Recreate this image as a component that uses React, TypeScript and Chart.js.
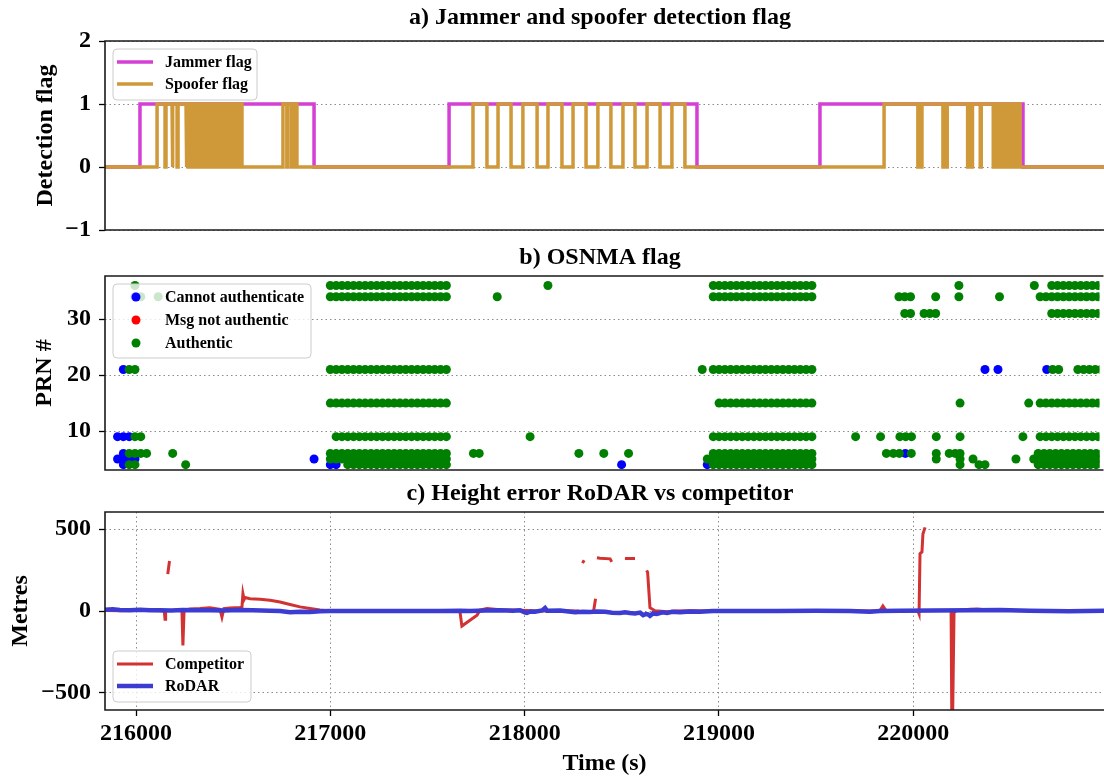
import React, { useEffect, useRef } from "react";
import { Chart, registerables } from "chart.js";

Chart.register(...registerables);

const FONT = '"Liberation Serif", "Times New Roman", serif';

// ---------- shared time axis ----------
const X_MIN = 215840;
const X_MAX = 220982;
const X_TICKS = [216000, 217000, 218000, 219000, 220000];

// ---------- panel a: detection flags ----------
const FLAG_TICKS = [-1, 0, 1, 2];
const jammerOn = [
  [216020, 216916],
  [217611, 218887],
  [219520, 220565],
];
const spooferOn = [
  [216108, 216545],
  [216756, 216828],
  [217734, 217806],
  [217863, 217930],
  [217991, 218064],
  [218120, 218192],
  [218249, 218316],
  [218377, 218444],
  [218506, 218568],
  [218630, 218697],
  [218758, 218825],
  [219850, 220550],
];
const spooferDrops = [
  216149, 216185, 216211, 216257, 216268, 216280, 216292, 216304, 216316, 216328,
  216340, 216352, 216364, 216376, 216388, 216400, 216412, 216424, 216436, 216448,
  216460, 216472, 216484, 216496, 216508, 216520, 216532,
  216776, 216800, 216815,
  220024, 220040, 220153, 220170, 220280, 220300, 220345,
  220412, 220424, 220436, 220448, 220460, 220472, 220484, 220496, 220508, 220520, 220532,
];
const DROP_LEN = 5;

// ---------- panel b: OSNMA flag ----------
const PRN_TICKS = [10, 20, 30];
const OSNMA_STEP = 30;
// [prn, first epoch, last epoch] runs of consecutive authenticated epochs
const authenticRuns = [
  [36, 217005, 217605], [34, 217005, 217605], [21, 217005, 217605], [15, 217005, 217605],
  [9, 217035, 217605], [6, 217005, 217605], [5, 217005, 217605], [4, 217095, 217605],
  [36, 218985, 219495], [34, 218985, 219495], [21, 218985, 219495], [15, 219015, 219495],
  [9, 218985, 219495], [6, 218985, 219495], [5, 218985, 219495], [4, 218985, 219495],
  [36, 220735, 221005], [34, 220675, 221005], [31, 220735, 221005], [21, 220870, 221005],
  [15, 220675, 221005], [9, 220675, 221005], [6, 220665, 221005], [5, 220665, 221005],
  [4, 220665, 221005],
];
// [time, prn]
const authenticPoints = [
  [215995, 36], [216025, 34], [216115, 34], [215965, 21], [215995, 21], [215995, 9], [216025, 9],
  [215965, 6], [215995, 6], [216025, 6], [216055, 6], [216190, 6], [215965, 4], [215995, 4], [216257, 4],
  [217745, 6], [217775, 6], [217868, 34], [218130, 36], [218038, 9], [218290, 6], [218419, 6],
  [218547, 6], [218928, 21], [218954, 5],
  [219945, 34], [219975, 34], [220005, 34], [220135, 34], [220255, 34], [220465, 34],
  [220255, 36], [220645, 36],
  [219975, 31], [220005, 31], [220075, 31], [220105, 31], [220135, 31],
  [220740, 21], [220771, 21], [220261, 15], [220616, 15],
  [219721, 9], [219850, 9], [219950, 9], [219980, 9], [220010, 9], [220138, 9], [220261, 9], [220586, 9],
  [219880, 6], [219916, 6], [219947, 6], [220009, 6], [220138, 6], [220205, 6], [220236, 6], [220261, 6],
  [220138, 5], [220261, 5], [220328, 5], [220550, 5], [220642, 5],
  [220261, 4], [220359, 4], [220390, 4],
];
const cannotAuthPoints = [
  [215995, 34], [215935, 21], [215905, 9], [215935, 9], [215965, 9], [215935, 6],
  [215905, 5], [215935, 5], [215965, 5], [215995, 5], [215935, 4], [216921, 5],
  [217005, 4], [217035, 4], [218511, 4], [218954, 4], [219978, 6],
  [220390, 21], [220457, 21], [220709, 21],
];
const notAuthenticPoints: number[][] = [];

// ---------- panel c: height error ----------
const METRE_TICKS = [-500, 0, 500];
const competitor: [number, number | null][] = [
  [215840, 3], [215917, 2], [216020, 4], [216123, 2], [216145, 0], [216149, -50], [216152, 0],
  [216156, null], [216163, 225], [216172, 305], [216178, null],
  [216190, 3], [216236, 5], [216241, -210], [216247, 5], [216277, 12], [216329, 15], [216380, 20],
  [216432, 10], [216442, -37], [216452, 15], [216483, 18], [216535, 22], [216545, 25], [216550, 105],
  [216556, 70], [216561, 82], [216586, 75], [216638, 72], [216689, 66], [216741, 55], [216792, 40],
  [216844, 25], [216895, 15], [216947, 6], [216998, 0], [217152, -3], [217358, -3], [217564, -3],
  [217667, -3], [217677, -92], [217755, -25], [217770, 5], [217806, 15], [217873, 8], [217976, 5],
  [218079, 0], [218182, 2], [218280, 0], [218288, null], [218298, 292], [218306, 310], [218312, null],
  [218355, 0], [218365, 75], [218368, null], [218372, 325], [218388, 322], [218440, 318], [218448, 300],
  [218455, null], [218516, 320], [218568, 320], [218580, null], [218628, 248], [218633, 235],
  [218645, 20], [218671, 2], [218733, -5], [218774, 0], [218851, 2], [218969, 0], [219108, 0],
  [219417, 0], [219674, 0], [219829, 2], [219844, 30], [219860, 2], [219932, 0], [220024, 0],
  [220030, -18], [220035, 350], [220045, 360], [220050, 470], [220061, 510], [220070, null],
  [220195, -5], [220200, -900], [220210, -10], [220220, 2], [220292, 10], [220330, 12], [220369, 8],
  [220447, 3], [220704, 2], [220982, 0], [221013, 0],
];
const rodar: [number, number][] = [
  [215840, 8], [215880, 10], [215917, 6], [215970, 5], [216020, 8], [216070, 4], [216123, 5],
  [216180, 3], [216241, 6], [216300, 4], [216380, 5], [216450, 3], [216535, 6], [216600, 4],
  [216689, 2], [216741, 0], [216792, -8], [216844, -4], [216895, -6], [216947, -2], [216998, 0],
  [217100, 0], [217255, 0], [217400, 0], [217564, 0], [217667, 2], [217719, 0], [217800, 3],
  [217873, 5], [217940, 2], [217976, 5], [218000, -8], [218012, -12], [218030, -3], [218053, -5],
  [218090, 3], [218105, 18], [218115, 2], [218182, 3], [218259, -8], [218300, -5], [218336, -6],
  [218372, -3], [218414, -5], [218450, -10], [218491, -12], [218516, -8], [218542, -12],
  [218568, -15], [218594, -10], [218610, -25], [218625, -18], [218635, -20], [218645, -30],
  [218660, -15], [218680, -18], [218710, -8], [218733, -12], [218760, -5], [218800, -8],
  [218851, -3], [218902, -5], [218969, 0], [219108, 0], [219300, 0], [219500, 2], [219674, 0],
  [219777, -5], [219829, 0], [219932, 2], [220100, 3], [220300, 5], [220447, 6], [220600, 2],
  [220800, -2], [221013, 2],
];

// ---------- styling ----------
const JAMMER_COLOR = "#d43fd4";
const SPOOFER_COLOR = "#cf9838";
const BLUE_DOT = "#0000ff";
const RED_DOT = "#ff0000";
const GREEN_DOT = "#008000";
const COMPETITOR_COLOR = "#d23232";
const RODAR_COLOR = "#3c3cd2";
const GRID_COLOR = "#8c8c8c";
const PLOT_LEFT = 105;

function stepSeries(on: number[][], drops: number[], dropLen: number) {
  const pts: { x: number; y: number }[] = [{ x: X_MIN, y: 0 }];
  for (const [a, b] of on) {
    pts.push({ x: a, y: 0 }, { x: a, y: 1 });
    for (const d of drops) {
      if (d > a && d < b) {
        pts.push({ x: d, y: 1 }, { x: d, y: 0 }, { x: d + dropLen, y: 0 }, { x: d + dropLen, y: 1 });
      }
    }
    pts.push({ x: b, y: 1 }, { x: b, y: 0 });
  }
  pts.push({ x: X_MAX + 100, y: 0 });
  return pts;
}

function expandRuns(runs: number[][]) {
  const pts: { x: number; y: number }[] = [];
  for (const [prn, a, b] of runs) {
    for (let t = a; t <= b; t += OSNMA_STEP) pts.push({ x: t, y: prn });
  }
  return pts;
}

const toXY = (arr: number[][]) => arr.map(([x, y]) => ({ x, y }));

const fmt = (v: number) => (v < 0 ? "\u2212" + Math.abs(v) : String(v));

const tickFont = { family: FONT, size: 24, weight: "bold" as const, lineHeight: 1 };

function xScale(show: boolean) {
  return {
    type: "linear" as const,
    min: X_MIN,
    max: X_MAX,
    display: show,
    afterBuildTicks: (s: any) => {
      s.ticks = X_TICKS.map((v) => ({ value: v }));
    },
    afterFit: (s: any) => {
      if (show) s.height = 66;
    },
    grid: {
      color: GRID_COLOR,
      lineWidth: 1,
      drawTicks: true,
      tickLength: 6,
      tickColor: "#000",
      tickWidth: 1.3,
      tickBorderDash: [],
    },
    border: { display: false, dash: [1.5, 3] },
    ticks: {
      font: tickFont,
      color: "#000",
      padding: 6,
      maxRotation: 0,
      autoSkip: false,
      callback: (v: any) => String(v),
    },
    title: {
      display: show,
      text: "Time (s)",
      color: "#000",
      font: { family: FONT, size: 24, weight: "bold" as const, lineHeight: 1 },
      padding: { top: 0, bottom: 0 },
    },
  };
}

function yScale(min: number, max: number, ticks: number[], title: string, titlePad: number) {
  return {
    type: "linear" as const,
    min,
    max,
    afterBuildTicks: (s: any) => {
      s.ticks = ticks.map((v) => ({ value: v }));
    },
    afterFit: (s: any) => {
      s.width = PLOT_LEFT;
    },
    grid: {
      color: GRID_COLOR,
      lineWidth: 1,
      drawTicks: true,
      tickLength: 6,
      tickColor: "#000",
      tickWidth: 1.3,
      tickBorderDash: [],
    },
    border: { display: false, dash: [1.5, 3] },
    ticks: {
      font: tickFont,
      color: "#000",
      padding: 8,
      callback: (v: any) => fmt(Number(v)),
    },
    title: {
      display: true,
      text: title,
      color: "#000",
      font: { family: FONT, size: 24, weight: "bold" as const, lineHeight: 1 },
      padding: { top: titlePad, bottom: 0 },
    },
  };
}

const framePlugin = {
  id: "frame",
  afterDraw(chart: any) {
    const { ctx, chartArea } = chart;
    const { left, top, right, bottom } = chartArea;
    ctx.save();
    ctx.strokeStyle = "#1a1a1a";
    ctx.lineWidth = 1.6;
    ctx.beginPath();
    ctx.moveTo(right + 4, top);
    ctx.lineTo(left, top);
    ctx.lineTo(left, bottom);
    ctx.lineTo(right + 4, bottom);
    ctx.stroke();
    ctx.restore();
  },
};

function titlePlugin(text: string, baseline: number) {
  return {
    id: "ptitle",
    afterDraw(chart: any) {
      const { ctx } = chart;
      ctx.save();
      ctx.font = `bold 24px ${FONT}`;
      ctx.fillStyle = "#000";
      ctx.textAlign = "center";
      ctx.textBaseline = "alphabetic";
      ctx.fillText(text, 600, baseline);
      ctx.restore();
    },
  };
}

type LegItem = { label: string; color: string; kind: "line" | "dot"; width?: number };

function legendPlugin(items: LegItem[], w: number, h: number, rowGap: number, anchor: "top" | "bottom") {
  return {
    id: "plegend",
    afterDatasetsDraw(chart: any) {
      const { ctx, chartArea } = chart;
      const bx = chartArea.left + 8;
      const by = anchor === "top" ? chartArea.top + 8 : chartArea.bottom - 8 - h;
      ctx.save();
      ctx.beginPath();
      ctx.roundRect(bx, by, w, h, 4);
      ctx.fillStyle = "rgba(255,255,255,0.8)";
      ctx.fill();
      ctx.strokeStyle = "#cccccc";
      ctx.lineWidth = 1;
      ctx.stroke();
      ctx.font = `bold 16px ${FONT}`;
      ctx.textBaseline = "middle";
      ctx.textAlign = "left";
      items.forEach((it, i) => {
        const y = by + 13 + i * rowGap;
        if (it.kind === "line") {
          ctx.strokeStyle = it.color;
          ctx.lineWidth = it.width || 3;
          ctx.beginPath();
          ctx.moveTo(bx + 4, y);
          ctx.lineTo(bx + 40, y);
          ctx.stroke();
        } else {
          ctx.fillStyle = it.color;
          ctx.beginPath();
          ctx.arc(bx + 23, y, 4.5, 0, Math.PI * 2);
          ctx.fill();
        }
        ctx.fillStyle = "#000";
        ctx.fillText(it.label, bx + 52, y + 1);
      });
      ctx.restore();
    },
  };
}

const basePlugins = {
  legend: { display: false },
  tooltip: { enabled: false },
  title: { display: false },
};

export default function App() {
  const aRef = useRef<HTMLCanvasElement>(null);
  const bRef = useRef<HTMLCanvasElement>(null);
  const cRef = useRef<HTMLCanvasElement>(null);

  useEffect(() => {
    const charts: Chart[] = [];

    charts.push(
      new Chart(aRef.current as HTMLCanvasElement, {
        type: "line",
        data: {
          datasets: [
            {
              label: "Jammer flag",
              data: stepSeries(jammerOn, [], DROP_LEN),
              borderColor: JAMMER_COLOR,
              borderWidth: 3.5,
              pointRadius: 0,
              tension: 0,
              order: 1,
            },
            {
              label: "Spoofer flag",
              data: stepSeries(spooferOn, spooferDrops, DROP_LEN),
              borderColor: SPOOFER_COLOR,
              borderWidth: 3.5,
              pointRadius: 0,
              tension: 0,
              order: 0,
            },
          ],
        },
        options: {
          responsive: false,
          animation: false,
          events: [],
          layout: { padding: { left: 0, right: 0, top: 41, bottom: 14 } },
          plugins: basePlugins as any,
          scales: {
            x: xScale(false) as any,
            y: yScale(-1, 2, FLAG_TICKS, "Detection flag", 34) as any,
          },
        },
        plugins: [
          legendPlugin(
            [
              { label: "Jammer flag", color: JAMMER_COLOR, kind: "line", width: 3.5 },
              { label: "Spoofer flag", color: SPOOFER_COLOR, kind: "line", width: 3.5 },
            ],
            144,
            51,
            22,
            "top"
          ),
          framePlugin,
          titlePlugin("a) Jammer and spoofer detection flag", 24),
        ],
      } as any)
    );

    charts.push(
      new Chart(bRef.current as HTMLCanvasElement, {
        type: "scatter",
        data: {
          datasets: [
            {
              label: "Cannot authenticate",
              data: toXY(cannotAuthPoints),
              backgroundColor: BLUE_DOT,
              pointRadius: 4.5,
              pointBorderWidth: 0,
              order: 2,
            },
            {
              label: "Msg not authentic",
              data: toXY(notAuthenticPoints),
              backgroundColor: RED_DOT,
              pointRadius: 4.5,
              pointBorderWidth: 0,
              order: 1,
            },
            {
              label: "Authentic",
              data: [...expandRuns(authenticRuns), ...toXY(authenticPoints)],
              backgroundColor: GREEN_DOT,
              pointRadius: 4.5,
              pointBorderWidth: 0,
              order: 0,
            },
          ],
        },
        options: {
          responsive: false,
          animation: false,
          events: [],
          layout: { padding: { left: 0, right: 0, top: 40, bottom: 20 } },
          plugins: basePlugins as any,
          scales: {
            x: xScale(false) as any,
            y: yScale(3.04, 37.7, PRN_TICKS, "PRN #", 33) as any,
          },
        },
        plugins: [
          legendPlugin(
            [
              { label: "Cannot authenticate", color: BLUE_DOT, kind: "dot" },
              { label: "Msg not authentic", color: RED_DOT, kind: "dot" },
              { label: "Authentic", color: GREEN_DOT, kind: "dot" },
            ],
            198,
            74,
            23,
            "top"
          ),
          framePlugin,
          titlePlugin("b) OSNMA flag", 28),
        ],
      } as any)
    );

    charts.push(
      new Chart(cRef.current as HTMLCanvasElement, {
        type: "line",
        data: {
          datasets: [
            {
              label: "Competitor",
              data: competitor.map(([x, y]) => ({ x, y })),
              borderColor: COMPETITOR_COLOR,
              borderWidth: 3,
              pointRadius: 0,
              tension: 0,
              spanGaps: false,
              order: 1,
            },
            {
              label: "RoDAR",
              data: rodar.map(([x, y]) => ({ x, y })),
              borderColor: RODAR_COLOR,
              borderWidth: 4.5,
              pointRadius: 0,
              tension: 0,
              order: 0,
            },
          ],
        },
        options: {
          responsive: false,
          animation: false,
          events: [],
          layout: { padding: { left: 0, right: 0, top: 36, bottom: 0 } },
          plugins: basePlugins as any,
          scales: {
            x: xScale(true) as any,
            y: yScale(-604, 604, METRE_TICKS, "Metres", 9) as any,
          },
        },
        plugins: [
          legendPlugin(
            [
              { label: "Competitor", color: COMPETITOR_COLOR, kind: "line", width: 3 },
              { label: "RoDAR", color: RODAR_COLOR, kind: "line", width: 4.5 },
            ],
            138,
            51,
            22,
            "bottom"
          ),
          framePlugin,
          titlePlugin("c) Height error RoDAR vs competitor", 24),
        ],
      } as any)
    );

    return () => charts.forEach((c) => c.destroy());
  }, []);

  const cs: React.CSSProperties = { position: "absolute", left: 0, display: "block" };
  return (
    <div style={{ position: "absolute", left: 0, top: 0, width: 1104, height: 776, overflow: "hidden", background: "#fff" }}>
      <canvas ref={aRef} width={1104} height={250} style={{ ...cs, top: 0 }} />
      <canvas ref={bRef} width={1104} height={254} style={{ ...cs, top: 236 }} />
      <canvas ref={cRef} width={1104} height={300} style={{ ...cs, top: 476 }} />
    </div>
  );
}
